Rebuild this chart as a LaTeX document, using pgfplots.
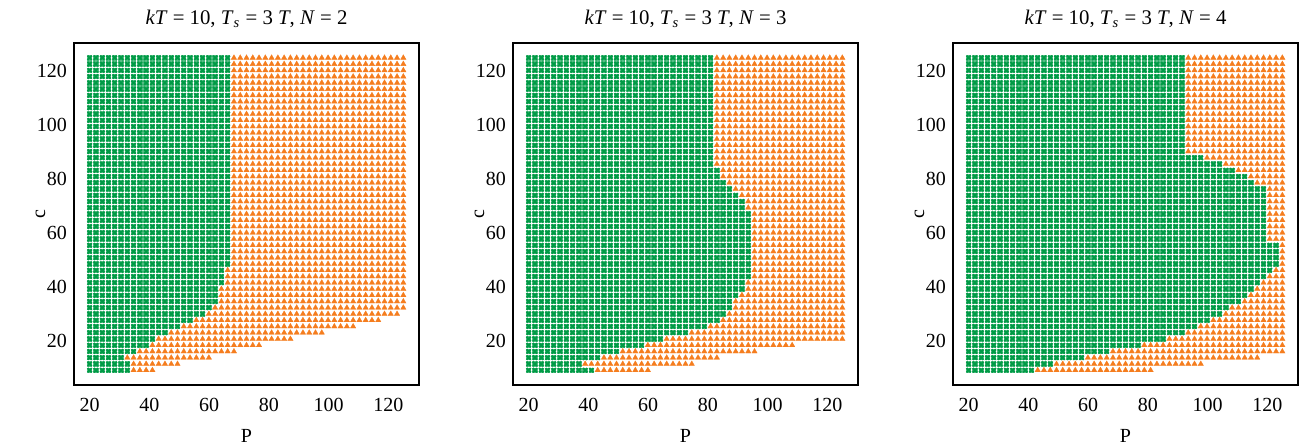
\documentclass[border=0pt]{standalone}
\usepackage{pgfplots}
\pgfplotsset{compat=1.18}
\usepackage{fontspec}
\setmainfont{Liberation Serif}
\definecolor{pg}{RGB}{0,155,70}
\definecolor{po}{RGB}{245,125,30}

\pgfdeclareplotmark{gx}{%
  \pgfpathrectangle{\pgfpoint{-1.35pt}{-1.35pt}}{\pgfpoint{2.7pt}{2.7pt}}%
  \pgfsetfillcolor{pg!65!white}\pgfusepathqfill
  \pgfpathmoveto{\pgfpoint{-1.05pt}{-1.05pt}}\pgfpathlineto{\pgfpoint{1.05pt}{1.05pt}}%
  \pgfpathmoveto{\pgfpoint{-1.05pt}{1.05pt}}\pgfpathlineto{\pgfpoint{1.05pt}{-1.05pt}}%
  \pgfsetlinewidth{0.95pt}\pgfsetstrokecolor{pg}\pgfusepathqstroke
}

% Each row of the grid: c / last green P / last orange P
% The P grid of the figure runs 20, 22.1, 24.2, ..., 125 (51 columns)
\def\rowsA{9.00/33/40, 11.32/33/49, 13.64/30/60, 15.96/34/69, 18.28/38/77, 20.60/42/88,
22.92/46/98, 25.24/50/108, 27.56/54/116, 29.88/57/123, 32.20/60/125, 34.52/61/125,
36.84/62/125, 39.16/63/125, 41.48/64/125, 43.80/64/125, 46.12/65/125, 48.44/66/125,
50.76/66/125, 53.08/66/125, 55.40/66/125, 57.72/66/125, 60.04/66/125, 62.36/66/125,
64.68/66/125, 67.00/66/125, 69.32/66/125, 71.64/66/125, 73.96/66/125, 76.28/66/125,
78.60/66/125, 80.92/66/125, 83.24/66/125, 85.56/66/125, 87.88/66/125, 90.20/66/125,
92.52/66/125, 94.84/66/125, 97.16/66/125, 99.48/66/125, 101.80/66/125, 104.12/66/125,
106.44/66/125, 108.76/66/125, 111.08/66/125, 113.40/66/125, 115.72/66/125, 118.04/66/125,
120.36/66/125, 122.68/66/125, 125.00/66/125}
\def\rowsB{9.00/42/59, 11.32/36/74, 13.64/44/84, 15.96/50/95, 18.28/57/108, 20.60/65/125,
22.92/72/125, 25.24/78/125, 27.56/82/125, 29.88/85/125, 32.20/87/125, 34.52/88/125,
36.84/90/125, 39.16/91/125, 41.48/92/125, 43.80/93/125, 46.12/93/125, 48.44/94/125,
50.76/94/125, 53.08/94/125, 55.40/94/125, 57.72/94/125, 60.04/94/125, 62.36/94/125,
64.68/94/125, 67.00/93/125, 69.32/92/125, 71.64/91/125, 73.96/89/125, 76.28/88/125,
78.60/86/125, 80.92/84/125, 83.24/83/125, 85.56/81/125, 87.88/81/125, 90.20/81/125,
92.52/81/125, 94.84/81/125, 97.16/81/125, 99.48/81/125, 101.80/81/125, 104.12/81/125,
106.44/81/125, 108.76/81/125, 111.08/81/125, 113.40/81/125, 115.72/81/125, 118.04/81/125,
120.36/81/125, 122.68/81/125, 125.00/81/125}
\def\rowsC{9.00/40/80, 11.32/48/98, 13.64/58/117, 15.96/67/125, 18.28/76/125, 20.60/86/125,
22.92/91/125, 25.24/95/125, 27.56/100/125, 29.88/104/125, 32.20/107/125, 34.52/110/125,
36.84/113/125, 39.16/115/125, 41.48/117/125, 43.80/119/125, 46.12/121/125, 48.44/123/125,
50.76/123/125, 53.08/123/125, 55.40/123/125, 57.72/119/125, 60.04/119/125, 62.36/119/125,
64.68/119/125, 67.00/119/125, 69.32/119/125, 71.64/119/125, 73.96/119/125, 76.28/118/125,
78.60/115/125, 80.92/113/125, 83.24/109/125, 85.56/104/125, 87.88/98/125, 90.20/91/125,
92.52/91/125, 94.84/91/125, 97.16/91/125, 99.48/91/125, 101.80/91/125, 104.12/91/125,
106.44/91/125, 108.76/91/125, 111.08/91/125, 113.40/91/125, 115.72/91/125, 118.04/91/125,
120.36/91/125, 122.68/91/125, 125.00/91/125}

\newcommand\rowplots[1]{%
  \foreach \cv/\gv/\ov in #1 {%
    \pgfmathtruncatemacro\ng{round((\gv-20)/2.1)}%
    \pgfmathtruncatemacro\no{round((\ov-20)/2.1)}%
    \gdef\ptsG{}\gdef\ptsO{}%
    \foreach \xi in {0,...,\ng} {\pgfmathsetmacro\pv{20+2.1*\xi}\xdef\ptsG{\ptsG(\pv,\cv)}}%
    \edef\tmp{\noexpand\addplot[gm] coordinates {\ptsG};}\tmp
    \ifnum\no>\ng
      \pgfmathtruncatemacro\nn{\ng+1}%
      \foreach \xi in {\nn,...,\no} {\pgfmathsetmacro\pv{20+2.1*\xi}\xdef\ptsO{\ptsO(\pv,\cv)}}%
      \edef\tmp{\noexpand\addplot[om] coordinates {\ptsO};}\tmp
    \fi
  }%
}

\pgfplotsset{
  panel/.style={
    scale only axis, width=172.5pt, height=171pt,
    xmin=14.75, xmax=130.25, ymin=3.5, ymax=130.5,
    xtick={20,40,...,120}, ytick={20,40,...,120},
    major tick length=0pt,
    axis line style={line width=1.2pt},
    tick label style={font=\fontsize{10}{12}\selectfont},
    xticklabel style={yshift=-3pt},
    /pgf/number format/assume math mode=true,
    xlabel={P}, ylabel={c},
    label style={font=\fontsize{10}{12}\selectfont},
    xlabel style={yshift=-2pt},
    ylabel style={yshift=-11pt},
    title style={font=\fontsize{10.4}{12}\selectfont, yshift=-2pt},
    anchor=south west,
  },
  gm/.style={only marks, color=pg, mark=gx},
  om/.style={only marks, color=po, mark=triangle*, mark size=1.55pt,
    mark options={fill=po, draw=po, line width=0.15pt}},
}

\begin{document}
\begin{tikzpicture}
\path[use as bounding box] (-37pt,-31pt) rectangle (615pt,192.5pt);
\begin{axis}[panel, at={(0pt,0pt)},
  title={\textit{kT} = 10, \textit{T}\textsubscript{\textit{s}} = 3 \textit{T}, \textit{N} = 2}]
\rowplots{\rowsA}
\end{axis}
\begin{axis}[panel, at={(219.5pt,0pt)},
  title={\textit{kT} = 10, \textit{T}\textsubscript{\textit{s}} = 3 \textit{T}, \textit{N} = 3}]
\rowplots{\rowsB}
\end{axis}
\begin{axis}[panel, at={(439.5pt,0pt)},
  title={\textit{kT} = 10, \textit{T}\textsubscript{\textit{s}} = 3 \textit{T}, \textit{N} = 4}]
\rowplots{\rowsC}
\end{axis}
\end{tikzpicture}
\end{document}
